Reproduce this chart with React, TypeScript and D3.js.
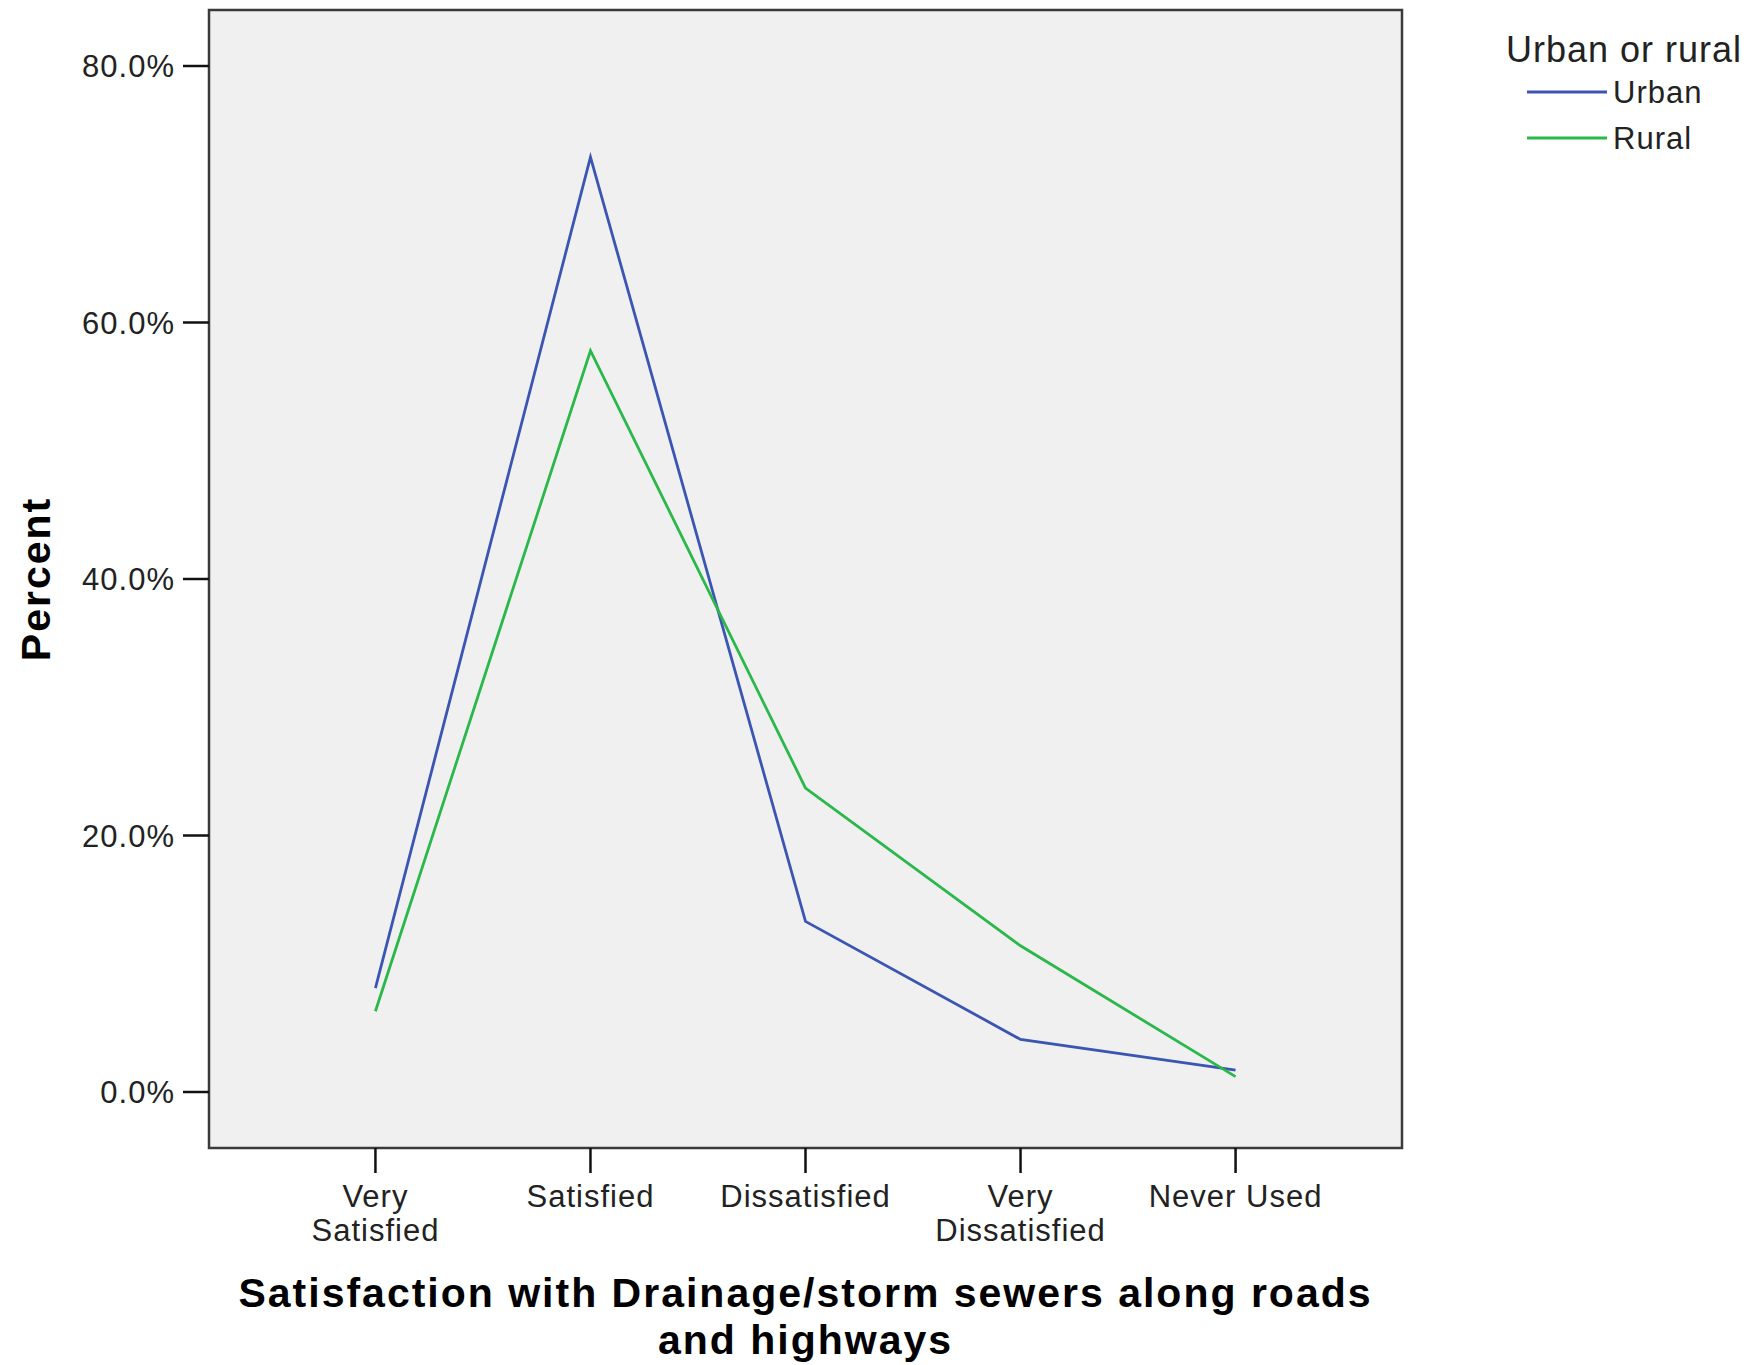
import React from 'react';
import * as d3 from 'd3';

// categories on the x axis (label lines split for wrapping)
const categories = ['Very Satisfied', 'Satisfied', 'Dissatisfied', 'Very Dissatisfied', 'Never Used'];
const categoryLines = [['Very', 'Satisfied'], ['Satisfied'], ['Dissatisfied'], ['Very', 'Dissatisfied'], ['Never Used']];

// percent values
const urbanValues = [8.1, 72.9, 13.3, 4.1, 1.7];
const ruralValues = [6.3, 57.8, 23.7, 11.4, 1.2];

const seriesNames = ['Urban', 'Rural'];
const yTicks = [0, 20, 40, 60, 80];

const App: React.FC = () => {
  // ========== layout ==========
  const width = 1760;
  const height = 1365;
  const frameLeft = 209;
  const frameRight = 1402;
  const frameTop = 10;
  const frameBottom = 1148;

  const font = '"Liberation Sans", Arial, sans-serif';
  const tickFontSize = 31;
  const titleFontSize = 41;

  const urbanColor = '#3b55b3';
  const ruralColor = '#2bb84b';
  // ============================

  const x = d3.scalePoint<string>()
    .domain(categories)
    .range([frameLeft, frameRight])
    .padding(0.774);

  const y = d3.scaleLinear()
    .domain([0, 80])
    .range([1092, 66]);

  const line = d3.line<number>()
    .x((_, i) => x(categories[i]) as number)
    .y(d => y(d));

  const series = [
    { name: seriesNames[0], values: urbanValues, color: urbanColor },
    { name: seriesNames[1], values: ruralValues, color: ruralColor },
  ];

  return (
    <svg
      width={width}
      height={height}
      style={{ position: 'absolute', left: 0, top: 0, background: '#fff' }}
      fontFamily={font}
    >
      {/* plot area */}
      <rect
        x={frameLeft}
        y={frameTop}
        width={frameRight - frameLeft}
        height={frameBottom - frameTop}
        fill="#f0f0f0"
        stroke="#3a3a3a"
        strokeWidth={2.5}
      />

      {/* y axis ticks */}
      {yTicks.map(t => (
        <g key={t}>
          <line x1={frameLeft - 26} x2={frameLeft} y1={y(t)} y2={y(t)} stroke="#111" strokeWidth={2.5} />
          <text
            x={frameLeft - 34}
            y={y(t)}
            dy="0.36em"
            textAnchor="end"
            fontSize={tickFontSize}
            letterSpacing={1}
            fill="#222"
          >
            {`${t.toFixed(1)}%`}
          </text>
        </g>
      ))}

      {/* x axis ticks */}
      {categories.map((c, i) => (
        <g key={c}>
          <line x1={x(c)} x2={x(c)} y1={frameBottom} y2={frameBottom + 25} stroke="#111" strokeWidth={2.5} />
          <text
            x={x(c)}
            y={1207}
            textAnchor="middle"
            fontSize={tickFontSize}
            letterSpacing={1}
            fill="#222"
          >
            {categoryLines[i].map((l, j) => (
              <tspan key={j} x={x(c)} dy={j === 0 ? 0 : 34}>{l}</tspan>
            ))}
          </text>
        </g>
      ))}

      {/* series lines */}
      {series.map(s => (
        <path key={s.name} d={line(s.values) || ''} fill="none" stroke={s.color} strokeWidth={2.8} />
      ))}

      {/* axis titles */}
      <text
        transform="translate(50,579) rotate(-90)"
        textAnchor="middle"
        fontSize={titleFontSize}
        fontWeight="bold"
        letterSpacing={2}
        fill="#000"
      >
        Percent
      </text>
      <text
        x={(frameLeft + frameRight) / 2}
        y={1307}
        textAnchor="middle"
        fontSize={titleFontSize}
        fontWeight="bold"
        letterSpacing={2}
        fill="#000"
      >
        <tspan x={(frameLeft + frameRight) / 2}>Satisfaction with Drainage/storm sewers along roads</tspan>
        <tspan x={(frameLeft + frameRight) / 2} dy={47}>and highways</tspan>
      </text>

      {/* legend */}
      <text x={1506} y={62} fontSize={36} letterSpacing={1} fill="#222">Urban or rural</text>
      {series.map((s, i) => (
        <g key={s.name}>
          <line x1={1527} x2={1607} y1={92 + i * 46} y2={92 + i * 46} stroke={s.color} strokeWidth={3} />
          <text x={1613} y={92 + i * 46} dy="0.36em" fontSize={tickFontSize} letterSpacing={1} fill="#222">
            {s.name}
          </text>
        </g>
      ))}
    </svg>
  );
};

export default App;
